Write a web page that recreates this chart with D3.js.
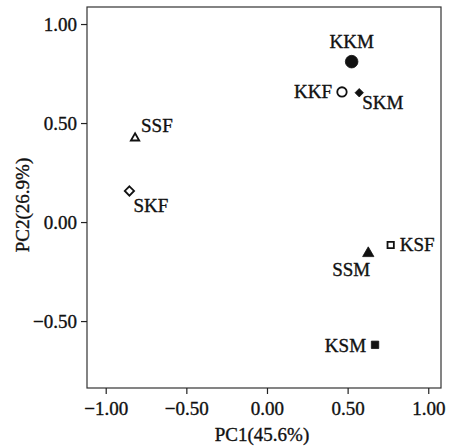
<!DOCTYPE html>
<html>
<head>
<meta charset="utf-8">
<script src="https://cdn.jsdelivr.net/npm/d3@7"></script>
<style>
  body { margin: 0; background: #fff; }
  svg { font-family: "Liberation Serif", "DejaVu Serif", serif; }
  svg text { fill: #111; stroke: #111; stroke-width: 0.35px; }
</style>
</head>
<body>
<svg id="chart"></svg>
<script>
// PCA scores
const groups = ["KKM", "KKF", "SKM", "SSF", "SKF", "SSM", "KSF", "KSM"];
const pc1 = [0.525, 0.465, 0.572, -0.818, -0.853, 0.628, 0.767, 0.67];
const pc2 = [0.81, 0.657, 0.653, 0.424, 0.157, -0.158, -0.116, -0.62];
const shapes = ["circle", "circle", "diamond", "triangle", "diamond", "triangle", "square", "square"];
const filled = [true, false, true, false, false, true, false, true];
const xTicks = [-1, -0.5, 0, 0.5, 1];
const yTicks = [-0.5, 0, 0.5, 1];

const w = 455, h = 446;
const plotL = 87, plotR = 441, plotT = 7, plotB = 388;

const svg = d3.select("#chart").attr("width", w).attr("height", h);

const x = d3.scaleLinear().domain([-1.116, 1.079]).range([plotL, plotR]);
const y = d3.scaleLinear().domain([-0.838, 1.086]).range([plotB, plotT]);

// plot frame
svg.append("rect")
  .attr("x", plotL).attr("y", plotT)
  .attr("width", plotR - plotL).attr("height", plotB - plotT)
  .attr("fill", "none").attr("stroke", "#333").attr("stroke-width", 1.2);

const fmt = d => d3.format(".2f")(d).replace("-", "\u2212");
const xAxis = d3.axisBottom(x).tickValues(xTicks).tickFormat(fmt).tickSize(6).tickSizeOuter(0);
const yAxis = d3.axisLeft(y).tickValues(yTicks).tickFormat(fmt).tickSize(6).tickSizeOuter(0);

const gx = svg.append("g").attr("transform", `translate(0,${plotB})`).call(xAxis);
const gy = svg.append("g").attr("transform", `translate(${plotL},0)`).call(yAxis);
[gx, gy].forEach(g => {
  g.select(".domain").remove();
  g.selectAll(".tick line").attr("stroke", "#222").attr("stroke-width", 1.2);
  g.selectAll(".tick text").attr("font-size", 19).attr("font-family", "Liberation Serif");
});
gx.selectAll(".tick text").attr("y", 12).attr("dy", "0.8em");
gy.selectAll(".tick text").attr("x", -10).attr("dy", "0.35em");

// axis titles
svg.append("text")
  .attr("x", 262).attr("y", 441)
  .attr("text-anchor", "middle").attr("font-size", 19)
  .text("PC1(45.6%)");
svg.append("text")
  .attr("transform", `translate(29,${205}) rotate(-90)`)
  .attr("text-anchor", "middle").attr("font-size", 19)
  .text("PC2(26.9%)");

// marker symbols (diamonds are squares turned 45 degrees)
const symType = {
  circle: d3.symbolCircle,
  diamond: d3.symbolDiamond2 || d3.symbolDiamond,
  triangle: d3.symbolTriangle,
  square: d3.symbolSquare
};
const symSize = [125, 70, 45, 30, 55, 55, 40, 55];

const pts = groups.map((g, i) => ({ g, x: pc1[i], y: pc2[i], shape: shapes[i], filled: filled[i], size: symSize[i] }));

svg.selectAll("path.pt")
  .data(pts)
  .enter()
  .append("path")
  .attr("class", "pt")
  .attr("transform", d => `translate(${x(d.x)},${y(d.y)})`)
  .attr("d", d => d3.symbol().type(symType[d.shape]).size(d.size)())
  .attr("fill", d => d.filled ? "#111" : "#fff")
  .attr("stroke", "#111")
  .attr("stroke-width", d => d.filled ? 0.8 : 1.8);

// label offsets (dx, dy, anchor)
const labelPos = {
  KKM: [0, -14, "middle"],
  KKF: [-10, 6, "end"],
  SKM: [3, 16, "start"],
  SSF: [6, -6, "start"],
  SKF: [4, 21, "start"],
  SSM: [-17, 23, "middle"],
  KSF: [9, 6, "start"],
  KSM: [-9, 7, "end"]
};

svg.selectAll("text.lbl")
  .data(pts)
  .enter()
  .append("text")
  .attr("class", "lbl")
  .attr("x", d => x(d.x) + labelPos[d.g][0])
  .attr("y", d => y(d.y) + labelPos[d.g][1])
  .attr("text-anchor", d => labelPos[d.g][2])
  .attr("font-size", 19)
  .text(d => d.g);
</script>
</body>
</html>
